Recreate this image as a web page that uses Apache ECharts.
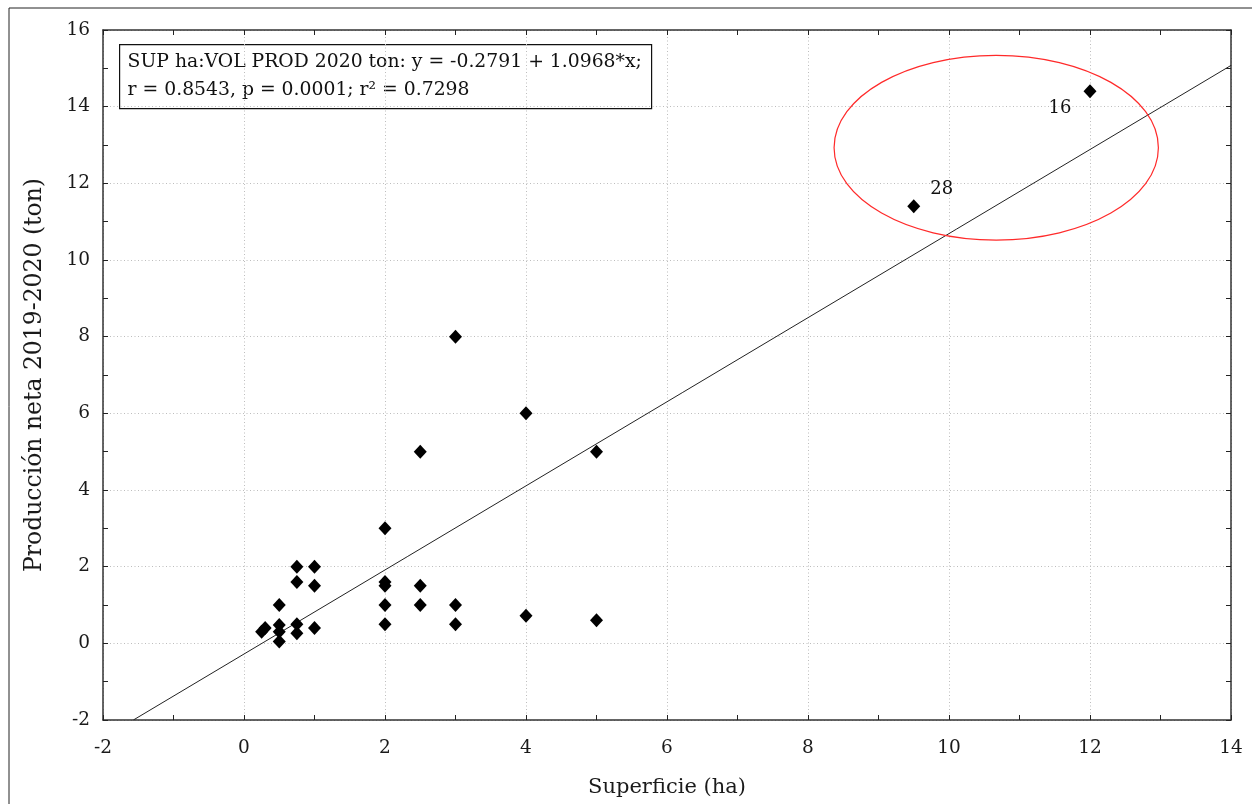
<!DOCTYPE html>
<html><head><meta charset="utf-8">
<script src="https://cdn.jsdelivr.net/npm/echarts@6/dist/echarts.min.js"></script>
<style>html,body{margin:0;padding:0;background:#fff}#c{width:1252px;height:804px}</style>
</head><body><div id="c"></div>
<script>
// Data
const superficie = [0.25,0.3,0.5,0.5,0.5,0.5,0.75,0.75,0.75,0.75,1,1,1,2,2,2,2,2,2.5,2.5,2.5,3,3,3,4,4,5,5,9.5,12];
const produccion = [0.3,0.4,1.0,0.48,0.3,0.05,2.0,1.6,0.5,0.26,2.0,1.5,0.4,3,1.6,1.5,1.0,0.5,5,1.5,1.0,8,1.0,0.5,6,0.72,5,0.6,11.4,14.4];
const pointIds  = ['','','','','','','','','','','','','','','','','','','','','','','','','','','','','28','16'];
const regIntercept = -0.2791;
const regSlope = 1.0968;
const xRange = [-2, 14];
const yRange = [-2, 16];
// highlighted region: center x, center y, half-width, half-height (data units)
const highlight = [10.67, 12.93, 2.30, 2.41];
const legendLines = ['SUP ha:VOL PROD 2020 ton: y = -0.2791 + 1.0968*x;', 'r = 0.8543, p = 0.0001; r² = 0.7298'];

const FONT = 'DejaVu Serif';
const labelOffsets = {'16':[-30,17], '28':[28,-17]};
const scatterData = superficie.map((x,i)=>{
  const id = pointIds[i];
  const item = {value:[x, produccion[i]]};
  if (id) item.label = {show:true, formatter:id, position:'inside', offset:labelOffsets[id], color:'#111', fontFamily:FONT, fontSize:18};
  return item;
});
const xStart = (xRange[0]-regIntercept)/regSlope < xRange[0] ? xRange[0] : (yRange[0]-regIntercept)/regSlope;
const lineData = [[xStart, regIntercept+regSlope*xStart],[xRange[1], regIntercept+regSlope*xRange[1]]];

function axisCommon(showLabel, pos){
  return {
    type:'value', min:pos==='x'?xRange[0]:yRange[0], max:pos==='x'?xRange[1]:yRange[1], interval:2,
    axisLine:{show:true, onZero:false, lineStyle:{color:'#333', width:1.5}},
    axisTick:{show:true, inside:true, length:5, lineStyle:{color:'#222'}},
    minorTick:{show:true, splitNumber:2, length:5, lineStyle:{color:'#222'}},
    axisLabel:{show:showLabel, color:'#1a1a1a', fontFamily:FONT, fontSize:18.5, margin:pos==='x'?19:13},
    splitLine:{show:showLabel, lineStyle:{color:'#bdbdbd', type:[1,2.5], width:1}},
    minorSplitLine:{show:false}
  };
}
const chart = echarts.init(document.getElementById('c'), null, {renderer:'canvas'});
chart.setOption({
  animation:false,
  backgroundColor:'#fff',
  grid:{left:103, right:21, top:30, bottom:84, containLabel:false},
  xAxis:[
    Object.assign(axisCommon(true,'x'), {position:'bottom', name:'Superficie (ha)', nameLocation:'middle', nameGap:57,
      nameTextStyle:{fontFamily:FONT, fontSize:21, color:'#1a1a1a'}}),
    Object.assign(axisCommon(false,'x'), {position:'top'})
  ],
  yAxis:[
    Object.assign(axisCommon(true,'y'), {position:'left', name:'Producción neta 2019-2020 (ton)', nameLocation:'middle', nameGap:56,
      nameTextStyle:{fontFamily:FONT, fontSize:23.5, color:'#1a1a1a'}}),
    Object.assign(axisCommon(false,'y'), {position:'right'})
  ],
  graphic:[
    {type:'rect', shape:{x:9, y:8, width:1300, height:900}, style:{fill:'none', stroke:'#222', lineWidth:1}, silent:true, z:-10},
    {type:'group', left:119, top:44, z:100, children:[
      {type:'rect', shape:{x:0, y:0, width:532, height:64}, style:{fill:'#fff', stroke:'#111', lineWidth:1.2}},
      {type:'text', x:8, y:8, style:{text:legendLines[0], fill:'#111', font:'18.8px "DejaVu Serif"'}},
      {type:'text', x:8, y:36, style:{text:legendLines[1], fill:'#111', font:'18.8px "DejaVu Serif"'}}
    ]}
  ],
  series:[
    {type:'line', data:lineData, showSymbol:false, symbol:'none', lineStyle:{color:'#222', width:1}, z:2, silent:true},
    {type:'scatter', data:scatterData, symbol:'diamond', symbolSize:[13,14], itemStyle:{color:'#000', opacity:1}, z:5},
    {type:'custom', data:[highlight], z:4, silent:true,
      renderItem:function(params, api){
        const c = api.coord([api.value(0), api.value(1)]);
        const s = api.size([api.value(2), api.value(3)]);
        return {type:'ellipse', shape:{cx:c[0], cy:c[1], rx:s[0], ry:s[1]}, style:{fill:'none', stroke:'#ff2a2a', lineWidth:1.2}};
      }}
  ]
});
</script></body></html>
